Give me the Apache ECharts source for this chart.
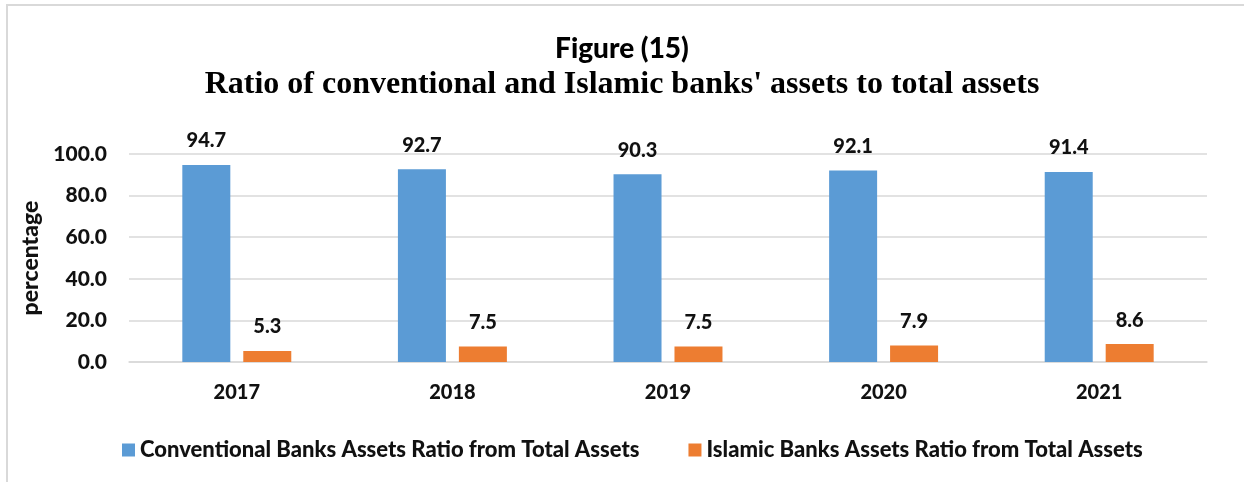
<!DOCTYPE html>
<html>
<head>
<meta charset="utf-8">
<script src="https://cdn.jsdelivr.net/npm/echarts@6/dist/echarts.min.js"></script>
<style>
  html, body { margin: 0; padding: 0; background: #fff; }
  #chart { width: 1244px; height: 482px; }
</style>
</head>
<body>
<div id="chart"></div>
<script>
const years = ['2017', '2018', '2019', '2020', '2021'];
const conventional = [94.7, 92.7, 90.3, 92.1, 91.4];
const islamic = [5.3, 7.5, 7.5, 7.9, 8.6];
const yTicks = [0, 20, 40, 60, 80, 100];

const sans = 'Lato, "Open Sans", sans-serif';
const heavy = 900;
const labelStyle = {
  show: true,
  position: 'top',
  distance: 14,
  fontFamily: sans,
  fontWeight: heavy,
  fontSize: 20,
  color: '#111',
  formatter: p => p.value.toFixed(1)
};

const chart = echarts.init(document.getElementById('chart'));
chart.setOption({
  animation: false,
  title: [
    {
      text: 'Figure (15)',
      left: 'center',
      top: 30,
      textStyle: { fontFamily: sans, fontWeight: heavy, fontSize: 28, color: '#000' }
    },
    {
      text: "Ratio of conventional and Islamic banks' assets to total assets",
      left: 'center',
      top: 64,
      textStyle: { fontFamily: '"Liberation Serif", "Times New Roman", serif', fontWeight: 'bold', fontSize: 32, color: '#000' }
    }
  ],
  graphic: [{
    type: 'rect',
    shape: { x: 7, y: 5, width: 1400, height: 700 },
    style: { fill: null, stroke: '#d9d9d9', lineWidth: 2 },
    silent: true
  }],
  legend: {
    left: 117,
    top: 434,
    itemWidth: 13,
    itemHeight: 13,
    itemGap: 49,
    icon: 'rect',
    textStyle: { fontFamily: sans, fontWeight: heavy, fontSize: 22, color: '#111' },
    data: ['Conventional Banks Assets Ratio from Total Assets', 'Islamic Banks Assets Ratio from Total Assets']
  },
  grid: { left: 129, right: 37, top: 154, bottom: 120 },
  xAxis: {
    type: 'category',
    data: years,
    axisLine: { lineStyle: { color: '#d9d9d9', width: 1.5 } },
    axisTick: { show: false },
    axisLabel: { margin: 21, fontFamily: sans, fontWeight: heavy, fontSize: 20, color: '#111' }
  },
  yAxis: {
    type: 'value',
    min: yTicks[0],
    max: yTicks[yTicks.length - 1],
    interval: 20,
    name: 'percentage',
    nameLocation: 'middle',
    nameGap: 86,
    nameTextStyle: { fontFamily: sans, fontWeight: heavy, fontSize: 23, color: '#111' },
    axisLine: { show: false },
    axisTick: { show: false },
    splitLine: { lineStyle: { color: '#d9d9d9', width: 1.5 } },
    axisLabel: {
      margin: 22,
      fontFamily: sans, fontWeight: heavy, fontSize: 21, color: '#111',
      formatter: v => v.toFixed(1)
    }
  },
  series: [
    {
      name: 'Conventional Banks Assets Ratio from Total Assets',
      type: 'bar',
      data: conventional,
      barWidth: 48,
      barGap: '27%',
      itemStyle: { color: '#5b9bd5' },
      label: labelStyle
    },
    {
      name: 'Islamic Banks Assets Ratio from Total Assets',
      type: 'bar',
      data: islamic,
      barWidth: 48,
      itemStyle: { color: '#ed7d31' },
      label: labelStyle
    }
  ]
});
</script>
</body>
</html>
